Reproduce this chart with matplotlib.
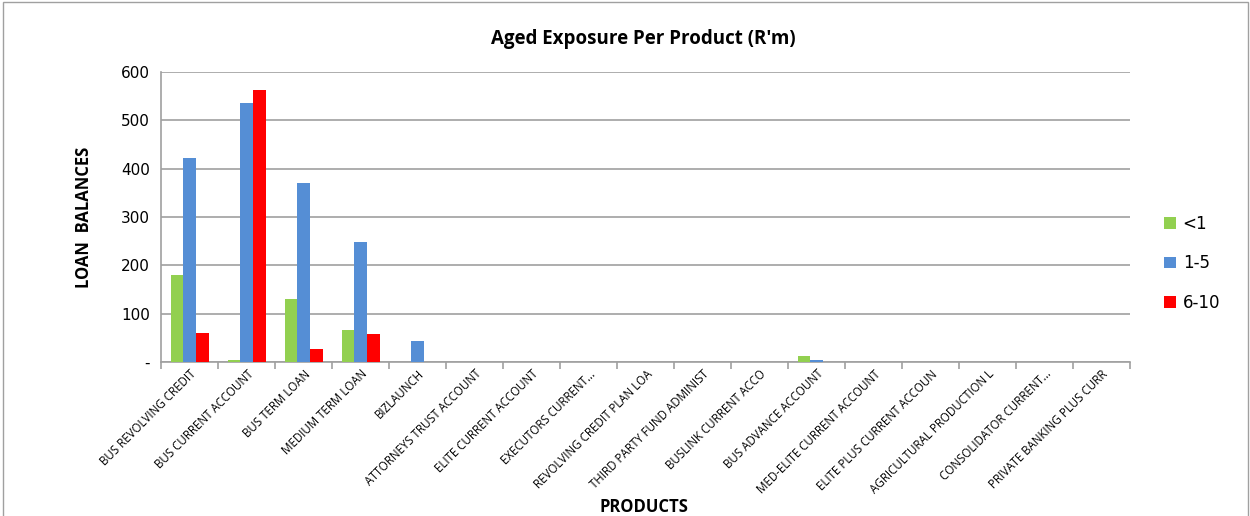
import numpy as np
import matplotlib.pyplot as plt
from matplotlib.patches import Rectangle

# Produkt kategóriák
products = ['BUS REVOLVING CREDIT', 'BUS CURRENT ACCOUNT', 'BUS TERM LOAN',
            'MEDIUM TERM LOAN', 'BIZLAUNCH', 'ATTORNEYS TRUST ACCOUNT',
            'ELITE CURRENT ACCOUNT', 'EXECUTORS CURRENT...',
            'REVOLVING CREDIT PLAN LOA', 'THIRD PARTY FUND ADMINIST',
            'BUSLINK CURRENT ACCO', 'BUS ADVANCE ACCOUNT',
            'MED-ELITE CURRENT ACCOUNT', 'ELITE PLUS CURRENT ACCOUN',
            'AGRICULTURAL PRODUCTION L', 'CONSOLIDATOR CURRENT...',
            'PRIVATE BANKING PLUS CURR']

# Sorozatok
lt1 = [180, 5, 130, 67, 0, 0, 0, 0, 0, 0, 0, 12, 0, 0, 0, 0, 0]
b1_5 = [422, 535, 370, 248, 43, 0, 0, 0, 0, 0, 0, 4, 0, 0, 0, 0, 0]
b6_10 = [60, 562, 26, 57, 0, 0, 0, 0, 0, 0, 0, 0, 0, 0, 0, 0, 0]

series = [('<1', lt1, '#92d050'), ('1-5', b1_5, '#558ed5'), ('6-10', b6_10, '#ff0000')]

fig = plt.figure(figsize=(12.5, 5.16), dpi=100)
ax = fig.add_axes([0.129, 0.2984, 0.775, 0.562])

x = np.arange(len(products))
w = 0.22
for i, (name, vals, col) in enumerate(series):
    ax.bar(x + (i - 1) * w, vals, w, color=col, label=name, zorder=3, linewidth=0)

ax.set_xlim(-0.5, len(products) - 0.5)
ax.set_ylim(0, 600)
ax.set_yticks(range(0, 601, 100))
ax.set_yticklabels(['-'] + [str(v) for v in range(100, 601, 100)], fontsize=11)
ax.yaxis.grid(True, color='#a0a0a0', linewidth=1.2, zorder=0)
ax.tick_params(axis='y', length=0, pad=8)

# Tengely és kategória-határ jelölők
ax.set_xticks(np.arange(len(products) + 1) - 0.5, minor=False)
ax.set_xticklabels([])
ax.tick_params(axis='x', which='major', direction='out', length=5, color='#a0a0a0', width=1.2)
ax.set_xticks(x, minor=True)
ax.set_xticklabels(products, minor=True, rotation=45, ha='right', rotation_mode='anchor',
                   fontsize=8.3, family='Open Sans')
ax.tick_params(axis='x', which='minor', length=0, pad=4)

for s in ['top', 'right']:
    ax.spines[s].set_visible(False)
for s in ['left', 'bottom']:
    ax.spines[s].set_color('#a0a0a0')
    ax.spines[s].set_linewidth(1.2)

fig.text(0.515, 0.925, "Aged Exposure Per Product (R'm)", ha='center', va='center',
         fontsize=13.5, fontweight='bold', family='Open Sans')
ax.set_ylabel('LOAN  BALANCES', fontsize=12, fontweight='bold', family='Open Sans', labelpad=20)
fig.text(0.515, 0.018, 'PRODUCTS', ha='center', va='center', fontsize=12,
         fontweight='bold', family='Open Sans')

ax.legend(loc='center left', bbox_to_anchor=(1.02, 0.34), frameon=False, fontsize=12,
          handlelength=0.7, handleheight=0.7, labelspacing=1.3, handletextpad=0.4)

# Keret
fig.patches.append(Rectangle((0.002, -0.01), 0.996, 1.006, transform=fig.transFigure,
                             fill=False, edgecolor='#a0a0a0', linewidth=1))

fig.savefig('out.png', dpi=100)
